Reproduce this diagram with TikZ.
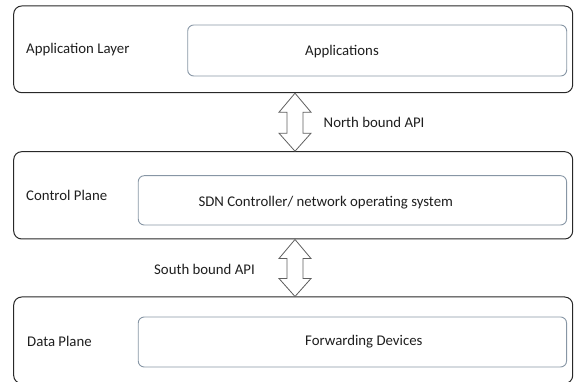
\documentclass[tikz,border=0pt]{standalone}
\usepackage{fontspec}
\setmainfont{Carlito}
\usetikzlibrary{calc}
\definecolor{outerline}{RGB}{40,40,40}
\definecolor{innerline}{RGB}{135,150,165}
\definecolor{arrowline}{RGB}{95,95,95}
\definecolor{txt}{RGB}{30,30,30}
\begin{document}
\begin{tikzpicture}[x=1pt,y=-1pt,
  layerbox/.style={draw=outerline,line width=1pt,rounded corners=8pt,inner sep=0pt},
  blockbox/.style={draw=innerline,line width=0.9pt,rounded corners=6pt,inner sep=0pt},
  label/.style={inner sep=0pt,text=txt,font=\fontsize{14.8}{17}\selectfont},
  apiarrow/.style={draw=arrowline,line width=0.8pt,fill=white,line join=miter}]
\useasboundingbox (0,0) rectangle (574,382);

% three layers, each a rounded frame with a block inside
\node[layerbox,minimum width=559pt,minimum height=86.7pt] (app)  at (293.2,49.35) {};
\node[layerbox,minimum width=559pt,minimum height=87.3pt] (ctrl) at (293.2,195.35) {};
\node[layerbox,minimum width=559pt,minimum height=86.5pt] (data) at (293.2,340.25) {};

\node[blockbox,minimum width=379pt,minimum height=51pt]   (apps) at (377.2,50.5) {};
\node[blockbox,minimum width=428.3pt,minimum height=49.3pt] (sdn) at (352.4,200.35) {};
\node[blockbox,minimum width=428.3pt,minimum height=50pt] (fwd) at (352.4,342) {};

% layer names and block texts
\node[label,anchor=base west] (appname)  at (26,53.3)  {Application Layer};
\node[label,anchor=base west] (ctrlname) at (26,201)   {Control Plane};
\node[label,anchor=base west] (dataname) at (27,347)   {Data Plane};
\node[label,anchor=base west] (appstxt)  at (305,56)   {Applications};
\node[label,anchor=base west] (sdntxt)   at (198.3,206.5) {SDN Controller/ network operating system};
\node[label,anchor=base west] (fwdtxt)   at (305,346)  {Forwarding Devices};

% hollow double arrows between the layers
\coordinate (n1) at (295,0 |- app.south);
\coordinate (n2) at (295,0 |- ctrl.north);
\coordinate (s1) at (295,0 |- ctrl.south);
\coordinate (s2) at (295,0 |- data.north);
\draw[apiarrow] (n1) -- ++(16,19) -- ++(-8,0) -- ($(n2)+(8,-18)$) -- ++(8,0) -- (n2)
  -- ++(-16,-18) -- ++(8,0) -- ($(n1)+(-8,19)$) -- ++(-8,0) -- cycle;
\draw[apiarrow] (s1) -- ++(16,19) -- ++(-8,0) -- ($(s2)+(8,-18)$) -- ++(8,0) -- (s2)
  -- ++(-16,-18) -- ++(8,0) -- ($(s1)+(-8,19)$) -- ++(-8,0) -- cycle;

\node[label,anchor=base west] (nbapi) at (323.5,128)   {North bound API};
\node[label,anchor=base west] (sbapi) at (154,274.5)   {South bound API};
\end{tikzpicture}
\end{document}
